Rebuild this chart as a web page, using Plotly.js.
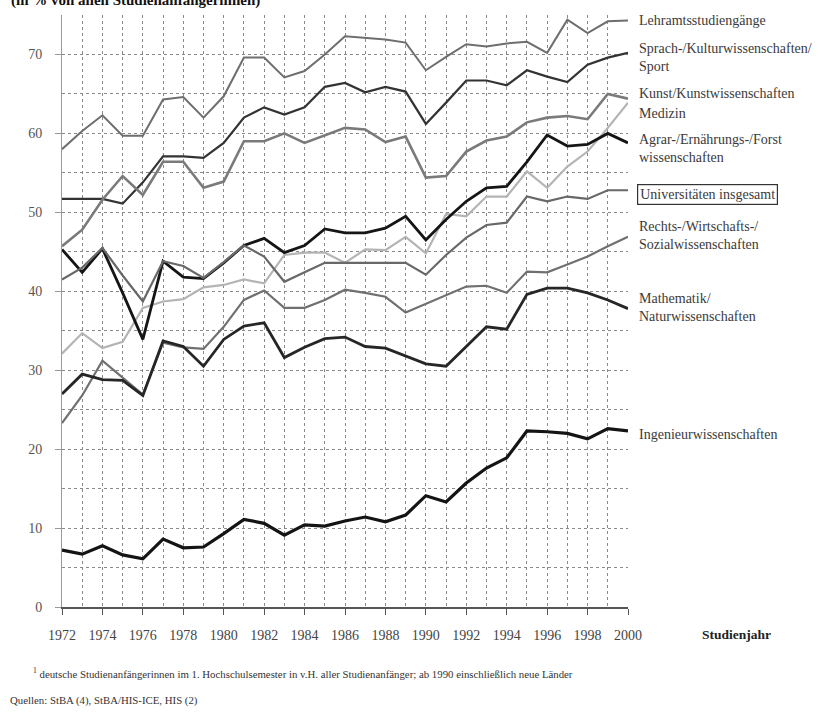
<!DOCTYPE html>
<html>
<head>
<meta charset="utf-8">
<script src="https://cdn.plot.ly/plotly-3.0.1.min.js"></script>
<style>html,body{margin:0;padding:0;background:#fff;}#chart{width:837px;height:713px;}</style>
</head>
<body>
<div id="chart"></div>
<script>
const years = [1972,1973,1974,1975,1976,1977,1978,1979,1980,1981,1982,1983,1984,1985,1986,1987,1988,1989,1990,1991,1992,1993,1994,1995,1996,1997,1998,1999,2000];

const lehramt   = [58.0,60.3,62.3,59.7,59.7,64.3,64.6,62.0,64.7,69.6,69.6,67.1,67.9,70.0,72.3,72.1,71.9,71.5,68.0,69.7,71.3,71.0,71.4,71.6,70.2,74.4,72.7,74.2,74.3];
const sprach    = [51.7,51.7,51.7,51.1,53.8,57.1,57.1,56.9,58.8,62.0,63.3,62.4,63.3,65.9,66.4,65.2,65.9,65.3,61.2,63.9,66.7,66.7,66.1,68.0,67.2,66.5,68.7,69.6,70.2];
const kunst     = [45.7,47.8,51.6,54.6,52.2,56.4,56.4,53.1,53.9,59.0,59.0,60.0,58.8,59.8,60.7,60.5,58.9,59.6,54.4,54.6,57.7,59.1,59.6,61.4,62.0,62.2,61.8,65.0,64.4];
const medizin   = [32.1,34.7,32.8,33.6,37.9,38.7,39.0,40.5,40.8,41.5,41.0,44.6,44.9,44.9,43.6,45.3,45.2,46.9,44.8,49.8,49.5,52.0,52.0,55.2,53.1,55.8,57.7,60.7,63.9];
const agrar     = [45.3,42.4,45.4,39.8,33.9,43.8,41.8,41.6,43.6,45.8,46.7,44.9,45.8,47.9,47.4,47.4,48.0,49.5,46.5,49.1,51.4,53.1,53.3,56.4,59.8,58.4,58.6,60.0,58.8];
const univ      = [41.5,43.0,45.5,42.0,38.7,43.8,43.2,41.7,43.7,45.8,44.4,41.2,42.4,43.6,43.6,43.6,43.6,43.6,42.1,44.6,46.8,48.4,48.7,52.0,51.4,52.0,51.7,52.8,52.8];
const rechts    = [23.3,26.8,31.2,29.0,26.9,33.5,32.9,32.7,35.5,38.9,40.1,37.9,37.9,38.9,40.2,39.8,39.3,37.3,38.4,39.5,40.6,40.7,39.8,42.5,42.4,43.4,44.4,45.7,46.9];
const mathe     = [27.0,29.5,28.8,28.7,26.8,33.7,33.0,30.5,33.9,35.6,36.0,31.6,32.9,34.0,34.2,33.0,32.8,31.8,30.8,30.5,33.0,35.5,35.2,39.6,40.4,40.4,39.8,38.9,37.8];
const ingenieur = [7.2,6.7,7.75,6.6,6.1,8.6,7.5,7.6,9.3,11.1,10.6,9.1,10.4,10.25,10.9,11.4,10.8,11.65,14.1,13.3,15.7,17.6,18.9,22.3,22.2,22.0,21.3,22.6,22.3];

const seriesNames = ["Lehramtsstudiengänge","Sprach-/Kulturwissenschaften/<br>Sport","Kunst/Kunstwissenschaften","Medizin","Agrar-/Ernährungs-/Forst<br>wissenschaften","Universitäten insgesamt","Rechts-/Wirtschafts-/<br>Sozialwissenschaften","Mathematik/<br>Naturwissenschaften","Ingenieurwissenschaften"];
const seriesData = [lehramt,sprach,kunst,medizin,agrar,univ,rechts,mathe,ingenieur];
const seriesStyle = [
  {color:'#6e6e6e', width:2},
  {color:'#333333', width:2.2},
  {color:'#7a7a7a', width:2.6},
  {color:'#b4b4b4', width:2.2},
  {color:'#151515', width:2.8},
  {color:'#686868', width:2.2},
  {color:'#707070', width:2.2},
  {color:'#262626', width:2.8},
  {color:'#141414', width:3.2}
];
// label vertical pixel centres (page coords) for right-hand labels
const labelPix = [20, 58, 93, 113, 149, 194, 235, 307, 434];

const plotTop = 15, plotBottom = 607;
const traces = seriesData.map((d,i)=>({
  type:'scatter', mode:'lines', x:years, y:d, name:seriesNames[i],
  line:{color:seriesStyle[i].color, width:seriesStyle[i].width},
  hoverinfo:'skip'
}));

const serif = 'Liberation Serif, Times New Roman, serif';
const annotations = seriesNames.map((n,i)=>({
  xref:'paper', yref:'paper', x:1, xshift:9, xanchor:'left',
  y:(plotBottom - labelPix[i])/(plotBottom-plotTop), yanchor:'middle',
  text:n, showarrow:false, align:'left',
  font:{family:serif, size:14, color:'#3a3a3a'},
  bordercolor: i===5 ? '#333' : 'rgba(0,0,0,0)', borderwidth: i===5 ? 1.2 : 0, borderpad: 2
}));
annotations.push({
  xref:'paper', yref:'paper', x:-0.094, xanchor:'left', y:(plotBottom-1)/(plotBottom-plotTop), yanchor:'middle',
  text:'<b>(in % von allen Studienanfängerinnen)</b>', showarrow:false,
  font:{family:serif, size:15, color:'#111'}
});
annotations.push({
  xref:'paper', yref:'paper', x:1, xshift:72, xanchor:'left', y:(plotBottom-634)/(plotBottom-plotTop), yanchor:'middle',
  text:'<b>Studienjahr</b>', showarrow:false,
  font:{family:serif, size:13.5, color:'#222'}
});
annotations.push({
  xref:'paper', yref:'paper', x:-0.094, xshift:22, xanchor:'left', y:(plotBottom-673)/(plotBottom-plotTop), yanchor:'middle',
  text:'<sup>1</sup> deutsche Studienanfängerinnen im 1. Hochschulsemester in v.H. aller Studienanfänger; ab 1990 einschließlich neue Länder', showarrow:false,
  font:{family:serif, size:10.8, color:'#333'}
});
annotations.push({
  xref:'paper', yref:'paper', x:-0.094, xshift:-1, xanchor:'left', y:(plotBottom-700)/(plotBottom-plotTop), yanchor:'middle',
  text:'Quellen: StBA (4), StBA/HIS-ICE, HIS (2)', showarrow:false,
  font:{family:serif, size:10.8, color:'#333'}
});

const gridC = '#8a8a8a';
const layout = {
  width:837, height:713,
  margin:{l:62, r:209, t:plotTop, b:713-plotBottom},
  paper_bgcolor:'#fff', plot_bgcolor:'#fff',
  showlegend:false,
  font:{family:serif, color:'#444'},
  xaxis:{
    range:[1972,2000], tick0:1972, dtick:2, showgrid:true, gridcolor:gridC, griddash:'dot', gridwidth:1,
    minor:{dtick:1, showgrid:true, gridcolor:gridC, griddash:'dot', gridwidth:1},
    showline:true, linecolor:'#555', linewidth:1.5, ticks:'outside', ticklen:6, tickcolor:'#555',
    ticklabelstandoff:9, tickfont:{family:serif, size:14, color:'#444'}, zeroline:false, fixedrange:true
  },
  yaxis:{
    range:[0,75], tick0:0, dtick:10, showgrid:true, gridcolor:gridC, griddash:'dot', gridwidth:1,
    minor:{dtick:5, showgrid:true, gridcolor:gridC, griddash:'dot', gridwidth:1},
    showline:true, linecolor:'#999', linewidth:1, zeroline:false, ticks:'outside', ticklen:6, tickcolor:'#999',
    ticklabelstandoff:10, tickfont:{family:serif, size:14, color:'#555'}, fixedrange:true
  },
  annotations:annotations
};
Plotly.newPlot('chart', traces, layout, {staticPlot:true, displayModeBar:false});
</script>
</body>
</html>
